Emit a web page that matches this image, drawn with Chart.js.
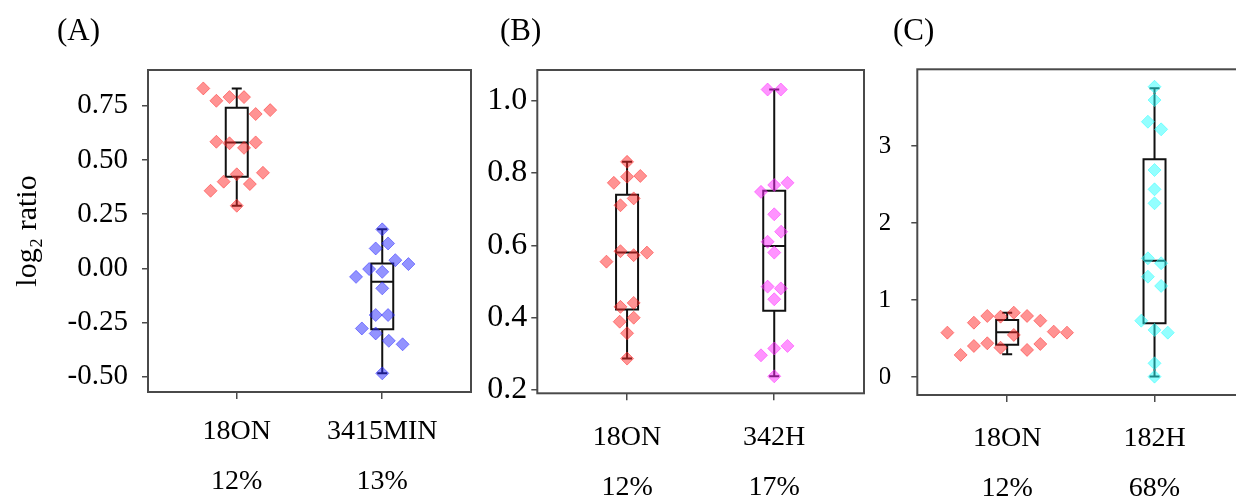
<!DOCTYPE html>
<html>
<head>
<meta charset="utf-8">
<script src="https://cdn.jsdelivr.net/npm/chart.js@4.4.0/dist/chart.umd.min.js"></script>
<style>
body { margin: 0; width: 1236px; height: 498px; overflow: hidden; background: #fff; position: relative; font-family: 'Liberation Serif', serif; }
.panel { position: absolute; top: 0; height: 498px; }
.tag { position: absolute; font-size: 31px; line-height: 31px; color: #000; }
</style>
</head>
<body>
<div class="panel" style="left:0;width:480px"><canvas id="chartA"></canvas></div>
<div class="panel" style="left:480px;width:400px"><canvas id="chartB"></canvas></div>
<div class="panel" style="left:880px;width:372px"><canvas id="chartC"></canvas></div>
<div class="tag" style="left:57px;top:14px">(A)</div>
<div class="tag" style="left:500px;top:14px">(B)</div>
<div class="tag" style="left:893px;top:14px">(C)</div>
<script>
// panel A : 18ON vs 3415MIN
const catsA = ['18ON', '3415MIN']
const pctA = ['12%', '13%']
const redA = [0.83, 0.773, 0.79, 0.79, 0.712, 0.73, 0.584, 0.577, 0.556, 0.581, 0.441, 0.434, 0.40, 0.389, 0.358, 0.289]
const redAJit = [-0.23, -0.14, -0.05, 0.05, 0.13, 0.23, -0.14, -0.05, 0.05, 0.13, 0.18, 0, -0.09, 0.09, -0.18, 0]
const blueA = [0.18, 0.092, 0.115, 0.038, 0.020, -0.003, -0.016, -0.039, -0.092, -0.215, -0.215, -0.277, -0.300, -0.334, -0.350, -0.484]
const blueAJit = [0, -0.045, 0.04, 0.09, 0.18, -0.09, 0, -0.18, 0, -0.045, 0.04, -0.14, -0.045, 0.045, 0.14, 0]
const boxRedA = [0.289, 0.423, 0.581, 0.741, 0.83]
const boxBlueA = [-0.484, -0.281, -0.062, 0.023, 0.18]
const ticksA = [-0.5, -0.25, 0, 0.25, 0.5, 0.75]

// panel B : 18ON vs 342H
const catsB = ['18ON', '342H']
const pctB = ['12%', '17%']
const redB = [0.831, 0.773, 0.79, 0.792, 0.73, 0.711, 0.584, 0.573, 0.58, 0.555, 0.43, 0.441, 0.389, 0.40, 0.357, 0.287]
const redBJit = [0, -0.09, 0, 0.09, 0.045, -0.045, -0.045, 0.045, 0.135, -0.14, -0.045, 0.045, -0.05, 0.045, 0, 0]
const magB = [1.031, 1.031, 0.767, 0.773, 0.748, 0.686, 0.638, 0.61, 0.58, 0.486, 0.481, 0.451, 0.322, 0.315, 0.296, 0.238]
const magBJit = [-0.045, 0.045, 0, 0.09, -0.09, 0, 0.047, -0.045, 0, -0.045, 0.045, 0, 0.09, 0, -0.09, 0]
const boxRedB = [0.287, 0.423, 0.580, 0.740, 0.831]
const boxMagB = [0.238, 0.419, 0.598, 0.751, 1.031]
const ticksB = [0.2, 0.4, 0.6, 0.8, 1.0]

// panel C : 18ON vs 182H
const catsC = ['18ON', '182H']
const pctC = ['12%', '68%']
const redC = [0.578, 0.289, 0.707, 0.405, 0.794, 0.44, 0.785, 0.383, 0.837, 0.548, 0.794, 0.354, 0.733, 0.431, 0.591, 0.578]
const redCJit = [-0.406, -0.316, -0.226, -0.226, -0.135, -0.135, -0.045, -0.045, 0.045, 0.045, 0.135, 0.135, 0.225, 0.225, 0.316, 0.406]
const cyanC = [3.764, 3.592, 3.311, 3.212, 2.685, 2.435, 2.254, 1.541, 1.477, 1.303, 1.183, 0.733, 0.613, 0.578, 0.181, 0.008]
const cyanCJit = [0, 0, -0.045, 0.045, 0, 0, 0, -0.045, 0.045, -0.045, 0.045, -0.09, 0, 0.09, 0, 0]
const boxRedC = [0.298, 0.422, 0.583, 0.742, 0.837]
const boxCyanC = [0.01, 0.700, 1.510, 2.824, 3.744]
const ticksC = [0, 1, 2, 3]

const serif = 'Liberation Serif'
const edge = '#4a4a4a'

// whiskers + box, drawn under the points
const boxPlot = {
  id: 'boxPlot',
  beforeDatasetsDraw(chart) {
    const ctx = chart.ctx, xs = chart.scales.x, ys = chart.scales.y
    ctx.save()
    ctx.strokeStyle = '#111'
    ctx.lineWidth = 2
    chart.data.datasets.forEach(ds => {
      const cx = xs.getPixelForValue(ds.cat)
      const [lo, q1, med, q3, hi] = ds.box.map(v => ys.getPixelForValue(v))
      const hw = 11, cw = 5
      ctx.beginPath()
      ctx.moveTo(cx, hi); ctx.lineTo(cx, q3)
      ctx.moveTo(cx, q1); ctx.lineTo(cx, lo)
      ctx.moveTo(cx - cw, hi); ctx.lineTo(cx + cw, hi)
      ctx.moveTo(cx - cw, lo); ctx.lineTo(cx + cw, lo)
      ctx.moveTo(cx - hw, med); ctx.lineTo(cx + hw, med)
      ctx.rect(cx - hw, q3, 2 * hw, q1 - q3)
      ctx.stroke()
    })
    ctx.restore()
  }
}

const frame = {
  id: 'frame',
  afterDraw(chart) {
    const a = chart.chartArea, ctx = chart.ctx
    ctx.save()
    ctx.strokeStyle = edge
    ctx.lineWidth = 2
    ctx.strokeRect(a.left, a.top, a.right - a.left, a.bottom - a.top)
    ctx.restore()
  }
}

function series(vals, jit, cat, box, color) {
  return {
    data: vals.map((v, i) => ({ x: cat + jit[i], y: v })),
    cat: cat,
    box: box,
    pointStyle: 'rectRot',
    pointRadius: 6.5,
    backgroundColor: color,
    borderColor: color,
    borderWidth: 1
  }
}

function panel(id, p) {
  return new Chart(document.getElementById(id), {
    type: 'scatter',
    data: { datasets: p.datasets },
    plugins: [boxPlot, frame],
    options: {
      responsive: true,
      maintainAspectRatio: false,
      animation: false,
      events: [],
      layout: { padding: { top: p.top, right: p.right, left: 0, bottom: 0 } },
      plugins: { legend: { display: false }, tooltip: { enabled: false } },
      scales: {
        x: {
          type: 'linear', min: 0.39, max: 2.61,
          afterBuildTicks: s => { s.ticks = [{ value: 1 }, { value: 2 }] },
          afterFit: s => { s.height = p.xh },
          border: { display: false },
          grid: { drawOnChartArea: false, drawTicks: true, tickLength: 7, color: edge, lineWidth: 1.5 },
          ticks: {
            padding: p.xpad, color: '#000', maxRotation: 0,
            font: { family: serif, size: 28, lineHeight: '50px' },
            callback: v => [p.cats[v - 1], p.pcts[v - 1]]
          }
        },
        y: {
          min: p.ymin, max: p.ymax,
          afterBuildTicks: s => { s.ticks = p.yticks.map(v => ({ value: v })) },
          afterFit: s => { s.width = p.yw },
          border: { display: false },
          grid: { drawOnChartArea: false, drawTicks: true, tickLength: 6, color: edge, lineWidth: 1.5 },
          ticks: {
            padding: p.ypad, color: '#000',
            font: { family: serif, size: p.yfont },
            callback: v => v.toFixed(p.dec)
          },
          title: p.title ? {
            display: true, text: p.title, color: '#000',
            font: { family: serif, size: 30 }, padding: { top: 10, bottom: 0 }
          } : { display: false }
        }
      }
    }
  })
}

panel('chartA', {
  cats: catsA, pcts: pctA, yticks: ticksA, dec: 2,
  ymin: -0.57, ymax: 0.915, top: 70, right: 9, xh: 106, yw: 148, xpad: 8, ypad: 14, yfont: 29,
  title: 'log\u2082 ratio',
  datasets: [
    series(redA, redAJit, 1, boxRedA, 'rgba(255,40,40,0.5)'),
    series(blueA, blueAJit, 2, boxBlueA, 'rgba(40,40,255,0.5)')
  ]
})

panel('chartB', {
  cats: catsB, pcts: pctB, yticks: ticksB, dec: 1,
  ymin: 0.191, ymax: 1.085, top: 70, right: 16, xh: 104.7, yw: 57.3, xpad: 12, ypad: 4, yfont: 32,
  datasets: [
    series(redB, redBJit, 1, boxRedB, 'rgba(255,40,40,0.5)'),
    series(magB, magBJit, 2, boxMagB, 'rgba(255,40,255,0.5)')
  ]
})

panel('chartC', {
  cats: catsC, pcts: pctC, yticks: ticksC, dec: 0,
  ymin: -0.23, ymax: 3.99, top: 69.3, right: 7.6, xh: 103, yw: 37.3, xpad: 11.5, ypad: 20, yfont: 26,
  datasets: [
    series(redC, redCJit, 1, boxRedC, 'rgba(255,40,40,0.5)'),
    series(cyanC, cyanCJit, 2, boxCyanC, 'rgba(40,255,255,0.5)')
  ]
})
</script>
</body>
</html>
